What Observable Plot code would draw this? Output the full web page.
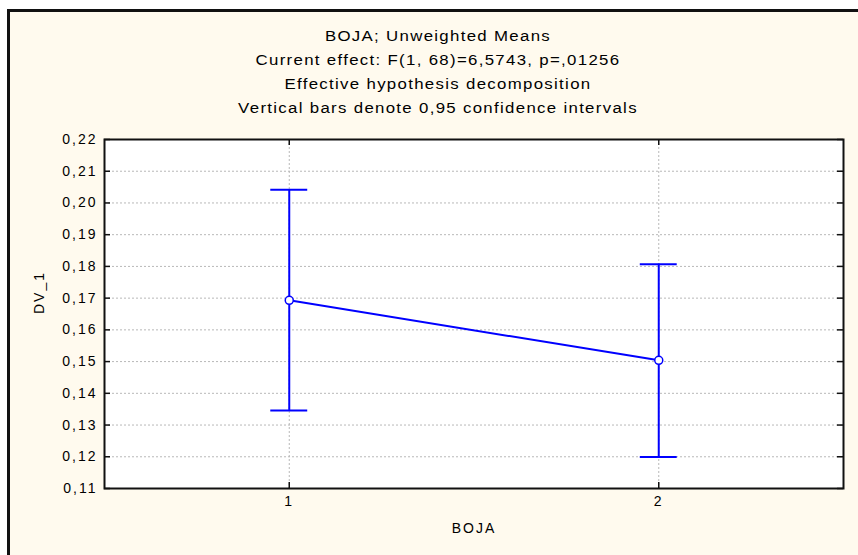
<!DOCTYPE html>
<html>
<head>
<meta charset="utf-8">
<script src="https://cdn.jsdelivr.net/npm/d3@7"></script>
<script src="https://cdn.jsdelivr.net/npm/@observablehq/plot@0.6"></script>
<style>
  body { margin: 0; background: #ffffff; }
  #wrap { position: relative; width: 858px; height: 555px; overflow: hidden; font-family: Arial, "Liberation Sans", sans-serif; }
  #frame { position: absolute; left: 7px; top: 9px; width: 860px; height: 560px; border-top: 3px solid #111; border-left: 3px solid #111; background: #fffaee; }
  .title { position: absolute; left: 0; width: 876px; text-align: center; font-size: 14px; color: #000; letter-spacing: 1.1px; transform: scaleX(1.2); transform-origin: 438px 0; white-space: nowrap; }
  #chart { position: absolute; left: 0; top: 0; }
</style>
</head>
<body>
<div id="wrap">
  <div id="frame"></div>
  <div class="title" style="top:28px">BOJA; Unweighted Means</div>
  <div class="title" style="top:52px">Current effect: F(1, 68)=6,5743, p=,01256</div>
  <div class="title" style="top:76px">Effective hypothesis decomposition</div>
  <div class="title" style="top:100px">Vertical bars denote 0,95 confidence intervals</div>
  <div id="chart"></div>
</div>
<script>
const categories = [1, 2];
const means = [0.1693, 0.1504];
const lower = [0.1346, 0.1199];
const upper = [0.2042, 0.1807];
const yTicks = [0.11, 0.12, 0.13, 0.14, 0.15, 0.16, 0.17, 0.18, 0.19, 0.20, 0.21, 0.22];
const xTicks = [1, 2];

const data = categories.map((c, i) => ({boja: c, mean: means[i], lo: lower[i], hi: upper[i]}));

const W = 858, H = 555;
const mL = 104, mR = 15, mT = 139, mB = 67;
const innerW = W - mL - mR, innerH = H - mT - mB;
const capHalf = 0.05;
const fmt = d => d3.format(".2f")(d).replace(".", ",");
const blue = "#0000ff";

const chart = Plot.plot({
  width: W, height: H,
  marginLeft: mL, marginRight: mR, marginTop: mT, marginBottom: mB,
  style: {background: "transparent", fontFamily: "Arial, 'Liberation Sans', sans-serif", fontSize: "14px", color: "#000", letterSpacing: "2px"},
  x: {domain: [0.5, 2.5], ticks: xTicks},
  y: {domain: [0.11, 0.22], ticks: yTicks},
  marks: [
    Plot.frame({fill: "#ffffff"}),
    Plot.gridY(yTicks, {stroke: "#b8b8b8", strokeOpacity: 1, strokeDasharray: "2,2"}),
    Plot.gridX(xTicks, {stroke: "#b8b8b8", strokeOpacity: 1, strokeDasharray: "2,2"}),
    // inward ticks on all four sides
    Plot.tickY(yTicks, {y: d => d, stroke: "#111", strokeWidth: 1.5, insetRight: innerW - 6}),
    Plot.tickY(yTicks, {y: d => d, stroke: "#111", strokeWidth: 1.5, insetLeft: innerW - 6}),
    Plot.tickX(xTicks, {x: d => d, stroke: "#111", strokeWidth: 1.5, insetTop: innerH - 6}),
    Plot.tickX(xTicks, {x: d => d, stroke: "#111", strokeWidth: 1.5, insetBottom: innerH - 6}),
    Plot.axisY(yTicks, {tickSize: 0, tickPadding: 7, tickFormat: fmt, label: null, fontSize: 14}),
    Plot.axisX(xTicks, {tickSize: 0, tickPadding: 8, tickFormat: d => String(d), label: null, fontSize: 14}),
    Plot.text(["DV_1"], {frameAnchor: "left", dx: -65, rotate: -90, fontSize: 14}),
    Plot.text(["BOJA"], {frameAnchor: "bottom", dy: 44, fontSize: 14}),
    // error bars
    Plot.ruleX(data, {x: "boja", y1: "lo", y2: "hi", stroke: blue, strokeWidth: 2}),
    Plot.ruleY(data, {y: "hi", x1: d => d.boja - capHalf, x2: d => d.boja + capHalf, stroke: blue, strokeWidth: 2}),
    Plot.ruleY(data, {y: "lo", x1: d => d.boja - capHalf, x2: d => d.boja + capHalf, stroke: blue, strokeWidth: 2}),
    Plot.line(data, {x: "boja", y: "mean", stroke: blue, strokeWidth: 2}),
    Plot.dot(data, {x: "boja", y: "mean", r: 4, fill: "#ffffff", stroke: blue, strokeWidth: 1.5}),
    Plot.frame({stroke: "#111", strokeWidth: 2})
  ]
});
document.getElementById("chart").appendChild(chart);
</script>
</body>
</html>
